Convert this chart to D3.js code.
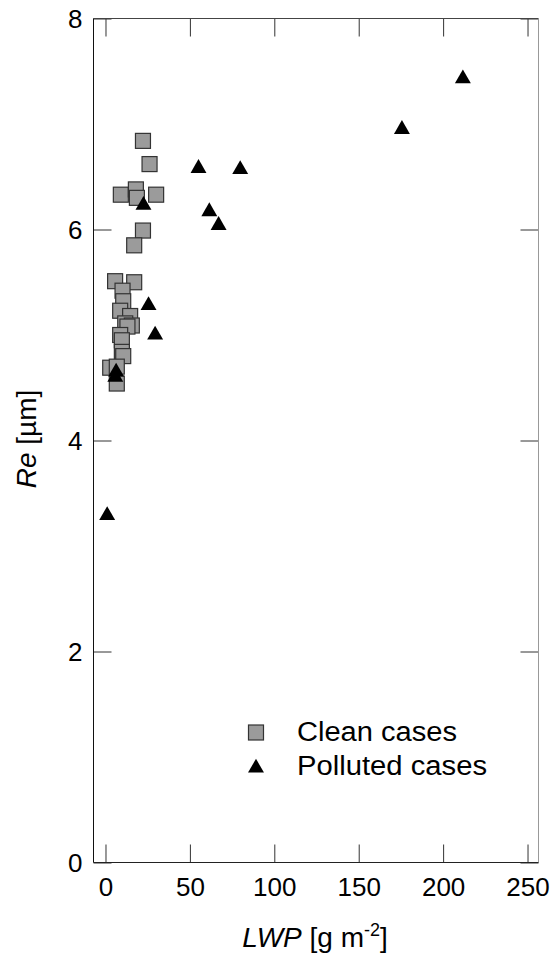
<!DOCTYPE html>
<html>
<head>
<meta charset="utf-8">
<script src="https://cdn.jsdelivr.net/npm/d3@7"></script>
<style>
  html, body { margin: 0; padding: 0; background: #fff; }
  svg { display: block; font-family: "Liberation Sans", Arial, sans-serif; }
</style>
</head>
<body>
<svg id="chart" width="552" height="954"></svg>
<script>
// Clean cases: liquid water path (g m^-2) and effective radius (µm)
const cleanLWP = [22.2, 26.1, 9.1, 18.0, 18.6, 30.0, 22.2, 17.0, 5.7, 17.0, 10.1, 10.5,
                  8.7, 14.6, 11.7, 15.6, 13.0, 8.7, 9.7, 9.7, 10.5, 2.8, 6.7, 6.7];
const cleanRe  = [6.84, 6.62, 6.33, 6.38, 6.30, 6.33, 5.99, 5.85, 5.51, 5.50, 5.42, 5.32,
                  5.23, 5.18, 5.11, 5.09, 5.08, 5.00, 4.95, 4.84, 4.80, 4.69, 4.70, 4.54];

// Polluted cases
const pollutedLWP = [1.0, 6.3, 5.8, 25.5, 29.4, 22.5, 55.1, 79.8, 61.5, 67.0, 211.7, 175.6];
const pollutedRe  = [3.29, 4.65, 4.60, 5.28, 5.00, 6.23, 6.58, 6.57, 6.17, 6.04, 7.43, 6.95];

const xTicks = [0, 50, 100, 150, 200, 250];
const yTicks = [0, 2, 4, 6, 8];
const legendLabels = ["Clean cases", "Polluted cases"];

const svg = d3.select("#chart");
const plotLeft = 93.5, plotRight = 538.5, plotTop = 18.5, plotBottom = 862.5;

const x = d3.scaleLinear().domain([-7.1, 256.5]).range([plotLeft, plotRight]);
const y = d3.scaleLinear().domain([0, 8]).range([plotBottom, plotTop]);

const tickLen = 18;
const tickFont = 26;

// Axes with inward ticks on all four sides; labels only on bottom and left
const gBottom = svg.append("g").attr("transform", `translate(0,${plotBottom})`)
  .call(d3.axisBottom(x).tickValues(xTicks).tickSizeInner(-tickLen).tickSizeOuter(0).tickPadding(15));
const gTop = svg.append("g").attr("transform", `translate(0,${plotTop})`)
  .call(d3.axisTop(x).tickValues(xTicks).tickSizeInner(-tickLen).tickSizeOuter(0).tickFormat(""));
const gLeft = svg.append("g").attr("transform", `translate(${plotLeft},0)`)
  .call(d3.axisLeft(y).tickValues(yTicks).tickSizeInner(-tickLen).tickSizeOuter(0).tickPadding(11));
const gRight = svg.append("g").attr("transform", `translate(${plotRight},0)`)
  .call(d3.axisRight(y).tickValues(yTicks).tickSizeInner(-tickLen).tickSizeOuter(0).tickFormat(""));

[gBottom, gTop, gLeft, gRight].forEach(g => {
  g.select(".domain").remove();
  g.selectAll(".tick line").attr("stroke", "#333").attr("stroke-width", 1);
  g.selectAll(".tick text").attr("fill", "#000").style("font-size", tickFont + "px")
    .style("font-family", "'Liberation Sans', Arial, sans-serif");
});
gBottom.selectAll(".tick text").attr("dy", "0.71em");
gLeft.selectAll(".tick text").attr("dy", "0.36em");

// Frame
svg.append("line").attr("x1", plotLeft).attr("x2", plotRight).attr("y1", plotTop).attr("y2", plotTop).attr("stroke", "#444");
svg.append("line").attr("x1", plotRight).attr("x2", plotRight).attr("y1", plotTop).attr("y2", plotBottom).attr("stroke", "#999");
svg.append("line").attr("x1", plotLeft).attr("x2", plotRight).attr("y1", plotBottom).attr("y2", plotBottom).attr("stroke", "#222");
svg.append("line").attr("x1", plotLeft).attr("x2", plotLeft).attr("y1", plotTop).attr("y2", plotBottom).attr("stroke", "#111");

// Markers
const sq = 15;
const triSym = d3.symbol().type(d3.symbolTriangle).size(110);

const cleanData = cleanLWP.map((v, i) => ({ lwp: v, re: cleanRe[i] }));
const pollutedData = pollutedLWP.map((v, i) => ({ lwp: v, re: pollutedRe[i] }));

svg.append("g").selectAll("rect").data(cleanData).join("rect")
  .attr("x", d => x(d.lwp) - sq / 2)
  .attr("y", d => y(d.re) - sq / 2)
  .attr("width", sq).attr("height", sq)
  .attr("fill", "#9b9b9b").attr("stroke", "#333").attr("stroke-width", 1.2);

svg.append("g").selectAll("path").data(pollutedData).join("path")
  .attr("d", triSym)
  .attr("transform", d => `translate(${x(d.lwp)},${y(d.re)})`)
  .attr("fill", "#000");

// Legend
const lg = svg.append("g");
lg.append("rect").attr("x", 256 - sq / 2).attr("y", 732.5 - sq / 2).attr("width", sq).attr("height", sq)
  .attr("fill", "#9b9b9b").attr("stroke", "#333").attr("stroke-width", 1.2);
lg.append("path").attr("d", triSym).attr("transform", "translate(256,768)").attr("fill", "#000");
lg.selectAll("text").data(legendLabels).join("text")
  .attr("x", 297).attr("y", (d, i) => 741 + i * 34)
  .attr("textLength", (d, i) => [160, 190][i]).attr("lengthAdjust", "spacingAndGlyphs")
  .style("font-size", "27px").attr("fill", "#000").text(d => d);

// Axis titles
const xt = svg.append("text").attr("x", 315).attr("y", 947).attr("text-anchor", "middle")
  .style("font-size", "28px").attr("fill", "#000");
xt.append("tspan").style("font-style", "italic").text("LWP");
xt.append("tspan").text(" [g m");
xt.append("tspan").attr("dy", -11).style("font-size", "18px").text("-2");
xt.append("tspan").attr("dy", 11).text("]");

const yt = svg.append("text").attr("transform", "translate(36,439) rotate(-90)").attr("text-anchor", "middle")
  .style("font-size", "28px").attr("fill", "#000");
yt.append("tspan").style("font-style", "italic").text("Re");
yt.append("tspan").text(" [µm]");
</script>
</body>
</html>
